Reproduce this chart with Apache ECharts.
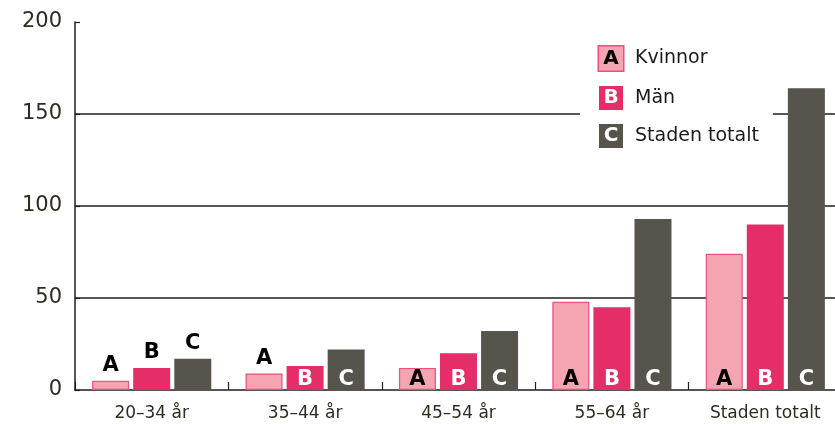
<!DOCTYPE html>
<html>
<head>
<meta charset="utf-8">
<script src="https://cdn.jsdelivr.net/npm/echarts@6/dist/echarts.min.js"></script>
<style>
  html, body { margin: 0; padding: 0; background: #fff; }
  #chart { width: 835px; height: 424px; }
</style>
</head>
<body>
<div id="chart"></div>
<script>
// Age groups and the city total
const categories = ['20–34 år', '35–44 år', '45–54 år', '55–64 år', 'Staden totalt'];

// Values per group
const kvinnor = [5, 9, 12, 48, 74];
const man = [12, 13, 20, 45, 90];
const totalt = [17, 22, 32, 93, 164];

// Y-axis ticks
const yTicks = [0, 50, 100, 150, 200];

// Where the series letter sits above the bar instead of inside it
const letterAbove = {
  kvinnor: [true, true, false, false, false],
  man: [true, false, false, false, false],
  totalt: [true, false, false, false, false]
};

const FONT = 'DejaVu Sans';
const colors = {
  kvinnor: '#f5a4b1',
  kvinnorBorder: '#ec4f80',
  man: '#e52d68',
  totalt: '#57544b',
  text: '#2f2b20'
};

function buildData(values, above, insideColor) {
  return values.map((v, i) => ({
    value: v,
    label: above[i]
      ? { position: 'top', distance: 7, color: '#000' }
      : { position: 'insideBottom', distance: 2, color: insideColor }
  }));
}

function letterLabel(letter) {
  return {
    show: true,
    formatter: letter,
    fontFamily: FONT,
    fontWeight: 'bold',
    fontSize: 21,
    lineHeight: 16
  };
}

const chart = echarts.init(document.getElementById('chart'), null, { renderer: 'canvas' });

const legendBox = (bg, border, fg) => ({
  width: 24,
  height: 24,
  lineHeight: 24,
  align: 'center',
  backgroundColor: bg,
  borderColor: border,
  borderWidth: border ? 1.5 : 0,
  color: fg,
  fontFamily: FONT,
  fontWeight: 'bold',
  fontSize: 20
});

const legendLetters = { 'Kvinnor': ['a', 'A'], 'Män': ['b', 'B'], 'Staden totalt': ['c', 'C'] };

chart.setOption({
  animation: false,
  backgroundColor: '#fff',
  grid: { left: 75, width: 767, top: 22, bottom: 34, outerBoundsMode: 'none' },
  legend: {
    orient: 'vertical',
    left: 580,
    top: 36,
    padding: [9, 14, 9, 13],
    backgroundColor: '#fff',
    itemWidth: 0,
    itemHeight: 24,
    itemGap: 14,
    icon: 'rect',
    itemStyle: { opacity: 0 },
    selectedMode: false,
    data: ['Kvinnor', 'Män', 'Staden totalt'],
    formatter: name => {
      const [key, letter] = legendLetters[name];
      return '{' + key + '|' + letter + '}{t|' + name + '}';
    },
    textStyle: {
      rich: {
        a: legendBox(colors.kvinnor, colors.kvinnorBorder, '#000'),
        b: legendBox(colors.man, null, '#fff'),
        c: legendBox(colors.totalt, null, '#fff'),
        t: {
          fontFamily: FONT,
          fontSize: 19,
          color: '#1a1a1a',
          padding: [0, 0, 0, 12]
        }
      }
    }
  },
  xAxis: {
    type: 'category',
    data: categories,
    axisLine: { show: true, lineStyle: { color: '#1e1e1e', width: 1.5 } },
    axisTick: { show: true, inside: true, length: 8, lineStyle: { color: '#1e1e1e', width: 1.2 } },
    axisLabel: { fontFamily: FONT, fontSize: 17, color: colors.text, margin: 15 },
    splitLine: { show: false }
  },
  yAxis: {
    type: 'value',
    min: yTicks[0],
    max: yTicks[yTicks.length - 1],
    interval: 50,
    axisLine: { show: true, lineStyle: { color: '#1e1e1e', width: 1.5 } },
    axisTick: { show: true, inside: true, length: 5, lineStyle: { color: '#1e1e1e', width: 1.2 } },
    axisLabel: { fontFamily: FONT, fontSize: 21, color: colors.text, margin: 13 },
    splitLine: {
      show: true,
      showMinLine: false,
      showMaxLine: false,
      lineStyle: { color: '#1f1f1f', width: 1.6 }
    }
  },
  series: [
    {
      name: 'Kvinnor',
      type: 'bar',
      barWidth: 37,
      barGap: '11%',
      itemStyle: { color: colors.kvinnor, borderColor: colors.kvinnorBorder, borderWidth: 1.2 },
      label: letterLabel('A'),
      data: buildData(kvinnor, letterAbove.kvinnor, '#000')
    },
    {
      name: 'Män',
      type: 'bar',
      barWidth: 37,
      barGap: '11%',
      itemStyle: { color: colors.man },
      label: letterLabel('B'),
      data: buildData(man, letterAbove.man, '#fff')
    },
    {
      name: 'Staden totalt',
      type: 'bar',
      barWidth: 37,
      barGap: '11%',
      itemStyle: { color: colors.totalt },
      label: letterLabel('C'),
      data: buildData(totalt, letterAbove.totalt, '#fff')
    }
  ]
});
</script>
</body>
</html>
